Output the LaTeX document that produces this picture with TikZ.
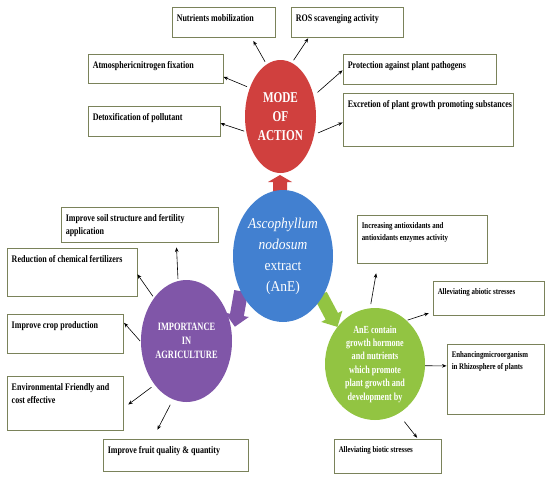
\documentclass[tikz,border=0pt]{standalone}
\usepackage{fontspec}
\setmainfont{Liberation Serif}
\newfontfamily\boxserif[FakeStretch=0.8]{Liberation Serif}
\newfontfamily\narrowserif[FakeStretch=0.75]{Liberation Serif}
\newfontfamily\blueserif[FakeStretch=0.9]{Liberation Serif}
\usepackage{tikz}
\usetikzlibrary{arrows.meta,shapes.geometric}
\definecolor{modered}{RGB}{208,64,62}
\definecolor{anblue}{RGB}{66,128,208}
\definecolor{agrpurple}{RGB}{128,86,168}
\definecolor{grwgreen}{RGB}{146,196,66}
\definecolor{boxline}{RGB}{122,130,90}
\tikzset{
  blob/.style={ellipse, draw=none, inner sep=0pt, text=white, align=center},
  infobox/.style={draw=boxline, line width=0.9pt, fill=white, inner sep=0pt},
  boxtext/.style={font=\boxserif\bfseries\fontsize{10}{12.5}\selectfont, align=left, anchor=north west, inner sep=0pt},
  smalltext/.style={font=\boxserif\bfseries\fontsize{8.6}{11.5}\selectfont},
  spoke/.style={-{Stealth[length=4.5pt,width=3.6pt]}, line width=0.6pt, shorten <=2pt}
}
% box with its text set in the top left corner
\newcommand{\ibox}[7][]{%
  \node[infobox, minimum width=#5pt, minimum height=#6pt] (#2) at (#3,#4) {};
  \node[boxtext, #1] (#2-t) at ([shift={(5pt,-8pt)}]#2.north west) {#7};}
% block arrow, pointing along the local x axis
\newcommand{\fatarrow}[1]{%
  \fill[#1] (-18,-7) -- (6,-7) -- (6,-12) -- (18,0) -- (6,12) -- (6,7) -- (-18,7) -- cycle;}

\begin{document}
\begin{tikzpicture}[x=1pt, y=-1pt]
\useasboundingbox (0,0) rectangle (550,480);
% block arrows from the extract
\fill[modered] (273,193) -- (273,182) -- (268,182) -- (280,175) -- (292,182) -- (287,182) -- (287,193) -- cycle;
\begin{scope}[shift={(238,309)}, rotate=-100]
  \fatarrow{agrpurple}
\end{scope}
\begin{scope}[shift={(329,311)}, rotate=-62]
  \fatarrow{grwgreen}
\end{scope}
% ellipses
\node[blob, fill=anblue, minimum width=100pt, minimum height=132pt, font=\blueserif\fontsize{15}{21}\selectfont] (ane) at (283,256)
  {{\itshape Ascophyllum}\\{\itshape nodosum}\\extract\\(AnE)};
\node[blob, fill=agrpurple, minimum width=91pt, minimum height=122pt, font=\narrowserif\bfseries\fontsize{11.2}{14}\selectfont] (imp) at (186.5,341)
  {IMPORTANCE\\IN\\AGRICULTURE};
\node[blob, fill=grwgreen, minimum width=100pt, minimum height=112pt, font=\narrowserif\bfseries\fontsize{10.8}{13.4}\selectfont] (grow) at (375,364)
  {AnE contain\\growth hormone\\and nutrients\\which promote\\plant growth and\\development by};
\node[blob, fill=modered, minimum width=71pt, minimum height=113pt, font=\narrowserif\bfseries\fontsize{15}{19}\selectfont] (mode) at (280.5,116.5)
  {MODE\\OF\\ACTION};
% mode of action
\ibox{nutr}{223.5}{22}{103}{30}{Nutrients mobilization}
\ibox{ros}{347}{22}{112}{30}{ROS scavenging activity}
\ibox{atmo}{155.5}{68.5}{135}{29}{Atmosphericnitrogen fixation}
\ibox{prot}{419.5}{69}{153}{30}{Protection against plant pathogens}
\ibox{excr}{428}{119.5}{170}{53}{Excretion of plant growth promoting substances}
\ibox{detox}{154}{121}{132}{30}{Detoxification of pollutant}
% importance in agriculture
\ibox{soil}{139.5}{224.5}{157}{35}{Improve soil structure and fertility\\application}
\ibox{redu}{72}{272}{130}{48}{Reduction of chemical fertilizers}
\ibox{crop}{65}{333.5}{116}{39}{Improve crop production}
\ibox{env}{65}{403}{116}{54}{Environmental Friendly and\\cost effective}
\ibox{fruit}{175.5}{455}{145}{32}{Improve fruit quality \& quantity}
% growth
\ibox[smalltext]{incr}{422}{239}{130}{48}{Increasing antioxidants and\\antioxidants enzymes activity}
\ibox[smalltext]{abio}{488.5}{298}{111}{34}{Alleviating abiotic stresses}
\ibox[smalltext]{enh}{495.5}{379}{97}{70}{Enhancingmicroorganism\\in Rhizosphere of plants}
\ibox[smalltext]{bio}{387.5}{456}{107}{34}{Alleviating biotic stresses}
% spokes
\draw[spoke, shorten <=3pt, shorten >=4pt] (mode.105) -- (nutr.-29);
\draw[spoke, shorten <=3pt, shorten >=1pt] (mode.78) -- (ros.202);
\draw[spoke, shorten <=3pt] (mode.137) -- (atmo.-7);
\draw[spoke] (mode.204) -- (detox.-2);
\draw[spoke, shorten <=5pt] (mode.32) -- (prot.181);
\draw[spoke, shorten <=4pt] (mode.-28) -- (excr.182);
\draw[spoke, shorten >=5pt] (imp.98) -- (soil.-26);
\draw[spoke] (imp.127) -- (redu.-2);
\draw[spoke, shorten <=1pt, shorten >=1pt] (imp.181) -- (crop.11);
\draw[spoke, shorten <=4pt, shorten >=6pt] (imp.234) -- (env.-5);
\draw[spoke, shorten <=6pt, shorten >=10pt] (imp.257) -- (fruit.144);
\draw[spoke, shorten <=4pt, shorten >=10pt] (grow.95) -- (incr.209);
\draw[spoke, shorten <=1pt, shorten >=4pt] (grow.54) -- (abio.194);
\draw[spoke, shorten <=0pt] (grow.-2) -- (enh.165);
\draw[spoke, shorten <=10pt, shorten >=1pt] (grow.-65) -- (bio.30);
\end{tikzpicture}
\end{document}
